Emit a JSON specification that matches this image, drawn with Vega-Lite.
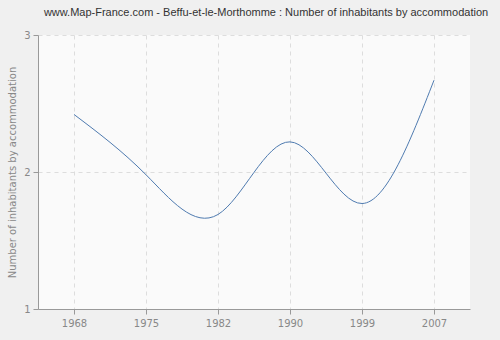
{
  "$schema": "https://vega.github.io/schema/vega-lite/v6.json",
  "width": 432,
  "height": 274,
  "autosize": {"type": "none"},
  "padding": {"left": 38, "top": 35, "right": 30, "bottom": 31},
  "background": "#f0f0f0",
  "title": {
    "text": "www.Map-France.com - Beffu-et-le-Morthomme : Number of inhabitants by accommodation",
    "font": "Liberation Sans",
    "fontSize": 11,
    "fontWeight": "normal",
    "color": "#333333",
    "anchor": "middle",
    "offset": 12,
    "dx": 12
  },
  "data": {
    "values": [
      {"year": "1968", "value": 2.42},
      {"year": "1975", "value": 1.98},
      {"year": "1982", "value": 1.69},
      {"year": "1990", "value": 2.22},
      {"year": "1999", "value": 1.77},
      {"year": "2007", "value": 2.67}
    ]
  },
  "config": {
    "view": {"fill": "#fafafa", "stroke": null},
    "axis": {
      "labelFont": "DejaVu Sans",
      "labelFontSize": 10,
      "labelColor": "#888888",
      "titleFont": "DejaVu Sans",
      "titleFontSize": 10,
      "titleFontWeight": "normal",
      "titleColor": "#888888",
      "domainColor": "#999999",
      "tickColor": "#999999",
      "gridColor": "#dddddd",
      "gridDash": [4, 4]
    }
  },
  "mark": {"type": "line", "interpolate": "natural", "color": "#4f7bb0", "strokeWidth": 1},
  "encoding": {
    "x": {
      "field": "year",
      "type": "ordinal",
      "scale": {"type": "point", "padding": 0.5},
      "axis": {"title": null, "labelAngle": 0, "grid": true, "tickSize": 5, "labelPadding": 4}
    },
    "y": {
      "field": "value",
      "type": "quantitative",
      "scale": {"domain": [1, 3]},
      "axis": {"title": "Number of inhabitants by accommodation", "values": [1, 2, 3], "format": ".0f", "labelOverlap": false, "grid": true, "tickSize": 5, "labelPadding": 3, "titlePadding": 6}
    }
  }
}
